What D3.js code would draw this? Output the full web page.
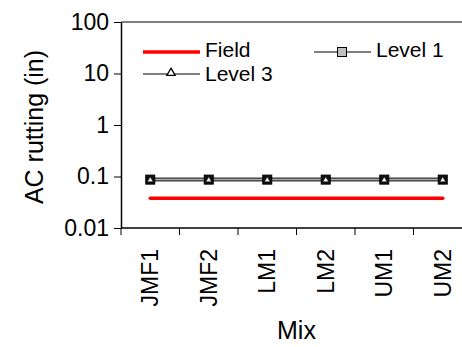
<!DOCTYPE html>
<html>
<head>
<meta charset="utf-8">
<script src="https://cdn.jsdelivr.net/npm/d3@7"></script>
<style>
  body { margin: 0; background: #fff; }
  text { font-family: "Liberation Sans", Arial, sans-serif; fill: #000; }
</style>
</head>
<body>
<svg id="chart" width="462" height="347"></svg>
<script>
// data
var mixes = ["JMF1", "JMF2", "LM1", "LM2", "UM1", "UM2"];
var field = [0.038, 0.038, 0.038, 0.038, 0.038, 0.038];
var level1 = [0.087, 0.087, 0.087, 0.087, 0.087, 0.087];
var level3 = [0.087, 0.087, 0.087, 0.087, 0.087, 0.087];
var yTicks = [0.01, 0.1, 1, 10, 100];
var yTickLabels = ["0.01", "0.1", "1", "10", "100"];

var svg = d3.select("#chart");
var margin = {left: 121, top: 22, right: -10, bottom: 119};
var W = 462 - margin.left - margin.right;
var H = 347 - margin.top - margin.bottom;

var x = d3.scaleBand().domain(mixes).range([0, W]);
var y = d3.scaleLog().domain([0.01, 100]).range([H, 0]);

var g = svg.append("g").attr("transform", "translate(" + margin.left + "," + margin.top + ")");

// frame top
g.append("line").attr("x1", 0).attr("x2", W).attr("y1", 0).attr("y2", 0)
    .attr("stroke", "#000").attr("stroke-width", 1);

// y axis
var yAxis = d3.axisLeft(y).tickValues(yTicks)
    .tickFormat(function(d, i){ return yTickLabels[i]; })
    .tickSize(7).tickSizeOuter(0).tickPadding(5);
var ya = g.append("g").call(yAxis);
ya.select(".domain").attr("stroke-width", 1.5);
ya.selectAll("text").style("font-size", "23px").attr("font-family", null);

// x axis: ticks between categories
var xa = g.append("g").attr("transform", "translate(0," + H + ")");
xa.append("line").attr("x1", 0).attr("x2", W).attr("stroke", "#000").attr("stroke-width", 1.5);
xa.selectAll(".tk").data(mixes).enter().append("line")
    .attr("x1", function(d){ return x(d); }).attr("x2", function(d){ return x(d); })
    .attr("y1", 0).attr("y2", 7).attr("stroke", "#000");
xa.selectAll(".lbl").data(mixes).enter().append("text")
    .attr("transform", function(d){ return "translate(" + (x(d) + x.bandwidth() / 2 + 8) + ",21) rotate(-90)"; })
    .attr("text-anchor", "end")
    .style("font-size", "23px")
    .text(function(d){ return d; });

// axis titles
g.append("text").attr("x", W / 2).attr("y", H + 111)
    .attr("text-anchor", "middle").style("font-size", "25px").text("Mix");
svg.append("text")
    .attr("transform", "translate(43," + (margin.top + H / 2 + 2) + ") rotate(-90)")
    .attr("text-anchor", "middle").style("font-size", "25px").text("AC rutting (in)");

var cx = function(d, i){ return x(mixes[i]) + x.bandwidth() / 2; };
var line = function(vals){
    return d3.line().x(function(d, i){ return cx(d, i); }).y(function(d){ return y(d); })(vals);
};

// Field
g.append("path").attr("d", line(field)).attr("fill", "none")
    .attr("stroke", "#ff0000").attr("stroke-width", 3.5).attr("stroke-linecap", "round");

// Level 3 line
g.append("path").attr("d", line(level3)).attr("fill", "none").attr("stroke", "#000").attr("stroke-width", 1);
// Level 1 line (gray with dark edges)
g.append("path").attr("d", line(level1)).attr("fill", "none").attr("stroke", "#333").attr("stroke-width", 4);
g.append("path").attr("d", line(level1)).attr("fill", "none").attr("stroke", "#aaa").attr("stroke-width", 1.5);

// markers
g.selectAll(".sq").data(level1).enter().append("rect")
    .attr("x", function(d, i){ return cx(d, i) - 4.5; }).attr("y", function(d){ return y(d) - 4.5; })
    .attr("width", 9).attr("height", 9).attr("fill", "#111").attr("stroke", "#000");
var tri = d3.symbol().type(d3.symbolTriangle).size(14);
g.selectAll(".tr").data(level3).enter().append("path")
    .attr("d", tri)
    .attr("transform", function(d, i){ return "translate(" + cx(d, i) + "," + (y(d) + 0.5) + ")"; })
    .attr("fill", "#fff").attr("stroke", "#000").attr("stroke-width", 0.5);

// legend
var lg = svg.append("g");
lg.append("line").attr("x1", 143).attr("x2", 200).attr("y1", 52).attr("y2", 52)
    .attr("stroke", "#ff0000").attr("stroke-width", 3.5);
lg.append("text").attr("x", 205).attr("y", 57).style("font-size", "21px").text("Field");

lg.append("line").attr("x1", 314).attr("x2", 371).attr("y1", 52).attr("y2", 52)
    .attr("stroke", "#000").attr("stroke-width", 1);
lg.append("rect").attr("x", 337.5).attr("y", 47.5).attr("width", 9).attr("height", 9)
    .attr("fill", "#c0c0c0").attr("stroke", "#000");
lg.append("text").attr("x", 376).attr("y", 57).style("font-size", "21px").text("Level 1");

lg.append("line").attr("x1", 143).attr("x2", 200).attr("y1", 74).attr("y2", 74)
    .attr("stroke", "#000").attr("stroke-width", 1);
lg.append("path").attr("d", d3.symbol().type(d3.symbolTriangle).size(30))
    .attr("transform", "translate(171,73)")
    .attr("fill", "#fff").attr("stroke", "#000").attr("stroke-width", 1.3);
lg.append("text").attr("x", 205).attr("y", 81).style("font-size", "21px").text("Level 3");
</script>
</body>
</html>
